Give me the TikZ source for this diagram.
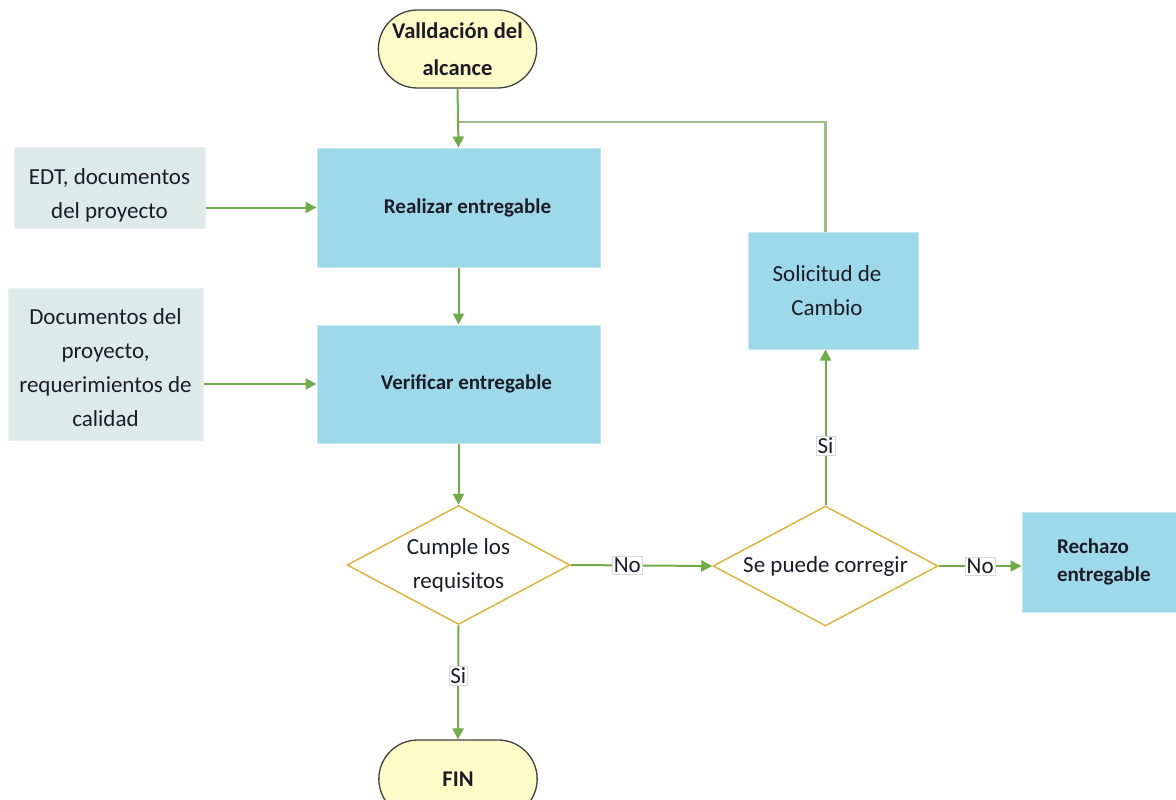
\documentclass[tikz,border=0pt]{standalone}
\usepackage{fontspec}
\setmainfont{Carlito}
\usetikzlibrary{shapes.geometric,shapes.misc,arrows.meta}

\definecolor{procblue}{HTML}{9ED9EA}
\definecolor{inputgrey}{HTML}{DDEBE8}
\definecolor{termyellow}{HTML}{FFFCC8}
\definecolor{decgold}{HTML}{E1B441}
\definecolor{flowgreen}{HTML}{70AD47}
\definecolor{loopgreen}{HTML}{9EBF82}
\definecolor{inktext}{HTML}{1C1C28}

\tikzset{
  txtn/.style={font=\fontsize{23}{34}\selectfont, text=inktext},
  txtb/.style={font=\fontsize{21}{28}\selectfont\bfseries, text=inktext},
  terminal/.style={rounded rectangle, draw=black!75, line width=1.3pt, fill=termyellow,
    minimum width=165, minimum height=78, align=center, txtb,
    font=\fontsize{22.5}{28}\selectfont\bfseries},
  procbox/.style={rectangle, fill=procblue, draw=procblue!60!white, line width=1pt,
    align=center, txtb},
  inbox/.style={rectangle, fill=inputgrey, draw=inputgrey!70!white, line width=1pt,
    align=center, txtn},
  decision/.style={diamond, draw=decgold, line width=1.5pt, fill=white, aspect=1.87,
    inner sep=0pt, minimum width=223, minimum height=119, align=center, txtn},
  flow/.style={draw=flowgreen, line width=2pt,
    -{Triangle[length=11pt,width=11pt]}},
  loopline/.style={draw=loopgreen, line width=2.4pt},
  tag/.style={fill=white, draw=black!15, line width=0.6pt, inner sep=1.5pt, txtn}
}

\begin{document}
\begin{tikzpicture}[x=1pt,y=-1pt]
\useasboundingbox (0,0) rectangle (1176,800);
\clip (0,0) rectangle (1176,800);

% terminals
\node[terminal] (start) at (457.5,49) {Valldación del\\[9pt]alcance};
\node[terminal] (fin) at (458,779) {FIN};

% process boxes (leading space nudges the caption a little to the right)
\node[procbox, minimum width=283, minimum height=119] (real) at (458.5,207.5) {\hspace*{18pt}Realizar entregable};
\node[procbox, minimum width=283, minimum height=118] (verif) at (458.5,384) {\hspace*{16pt}Verificar entregable};
\node[procbox, minimum width=170, minimum height=117, font=\fontsize{23}{34}\selectfont] (sol) at (833,290.5) {Solicitud de\hspace*{12pt}\\Cambio\hspace*{12pt}};
\node[procbox, minimum width=188, minimum height=100, text width=118, align=left] (rech) at (1116,562) {Rechazo\\entregable};

% inputs (the strut on the first line lowers the text inside the box)
\node[inbox, minimum width=191, minimum height=81] (edt) at (109.5,187.5) {\rule{0pt}{32pt}EDT, documentos\\del proyecto};
\node[inbox, minimum width=195, minimum height=152] (docs) at (105.5,364) {\rule{0pt}{24pt}Documentos del\\proyecto,\\requerimientos de\\calidad};

% decisions
\node[decision] (cumple) at (458.5,565) {Cumple los\\requisitos};
\node[decision, minimum width=225, minimum height=120] (corr) at (825.5,566) {Se puede corregir};

% loop back from the change request
\coordinate (loop) at (458,122);
\draw[loopline] (sol.north -| corr.north) |- (loop);

% main flow
\draw[flow] (start.south) -- (real.north);
\draw[flow] (edt.east |- real.west) -- (real.west);
\draw[flow] (real.south) -- (verif.north);
\draw[flow] (docs.east |- verif.west) -- (verif.west);
\draw[flow] (verif.south) -- (cumple.north);
\draw[flow] (cumple.east) -- node[tag, pos=0.4] (no1) {No} (corr.west);
\draw[flow] (corr.east) -- node[tag, pos=0.5] (no2) {No} (rech.west |- corr.east);
\draw[flow] (corr.north) -- node[tag, pos=0.38] (si2) {Si} (corr.north |- sol.south);
\draw[flow] (cumple.south) -- node[tag, pos=0.44] (si1) {Si} (fin.north);
\end{tikzpicture}
\end{document}
